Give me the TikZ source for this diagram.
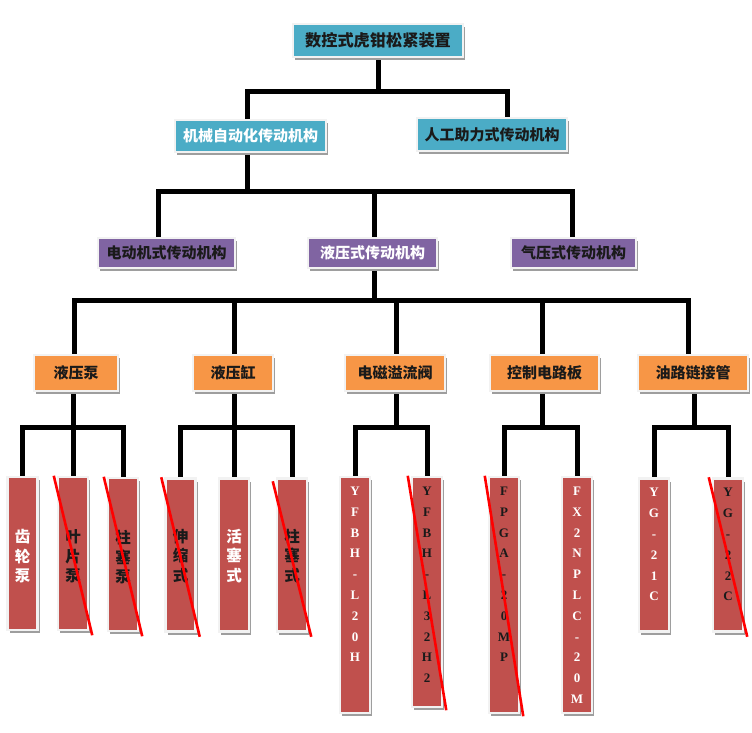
\documentclass[tikz,border=0pt]{standalone}
\usepackage{fontspec}
\setmainfont{Noto Sans CJK SC}
\newfontfamily\latf{Liberation Serif}
\usetikzlibrary{shadows,backgrounds}
\definecolor{tealb}{HTML}{4BACC6}
\definecolor{purpb}{HTML}{8064A2}
\definecolor{oranb}{HTML}{F79646}
\definecolor{redb}{HTML}{C0504D}
\definecolor{dk}{HTML}{1A1A1A}
\definecolor{framec}{HTML}{F2F2F2}
\begin{document}
\begin{tikzpicture}[x=1pt,y=-1pt,
  conn/.style={line width=5pt, black, line join=miter},
  boxbase/.style={draw=framec, line width=2.5pt, inner sep=0pt,
    drop shadow={shadow xshift=2pt, shadow yshift=-3pt, fill=black!38, opacity=1},
    font=\bfseries\fontsize{15}{18}\selectfont, text=dk},
  lvA/.style={boxbase, fill=tealb, minimum height=33pt},
  lvB/.style={boxbase, fill=purpb, minimum height=30pt},
  lvC/.style={boxbase, fill=oranb, minimum height=36pt},
  leafS/.style={boxbase, fill=redb, minimum width=30pt, minimum height=153pt},
  leafL/.style={boxbase, fill=redb, minimum width=30pt, minimum height=236pt},
  cjkt/.style={inner sep=0pt, align=center, font=\bfseries\fontsize{15.5}{19.5}\selectfont},
  latt/.style={inner sep=0pt, align=center, anchor=north, font=\latf\bfseries\fontsize{13}{20.8}\selectfont},
  strike/.style={red, line width=2.6pt},
]
\useasboundingbox (0,0) rectangle (752,733);

% level 1 and 2
\node[lvA, minimum width=170pt, font=\bfseries\fontsize{16.2}{19}\selectfont] (root) at (378,40.5) {数控式虎钳松紧装置};
\node[lvA, minimum width=151pt, minimum height=32pt, text=white] (mech) at (250.5,136) {机械自动化传动机构};
\node[lvA, minimum width=150pt] (manual) at (492,134.5) {人工助力式传动机构};

% level 3
\node[lvB, minimum width=137pt] (elec) at (166.5,253) {电动机式传动机构};
\node[lvB, minimum width=129pt, text=white] (hyd) at (372.5,253) {液压式传动机构};
\node[lvB, minimum width=125pt] (pneu) at (573.5,253) {气压式传动机构};

% level 4
\node[lvC, minimum width=84pt] (pump) at (76,373) {液压泵};
\node[lvC, minimum width=80pt] (cyl) at (233,373) {液压缸};
\node[lvC, minimum width=100pt] (valve) at (395,373) {电磁溢流阀};
\node[lvC, minimum width=109pt] (board) at (544.5,373) {控制电路板};
\node[lvC, minimum width=110pt] (pipe) at (693,373) {油路链接管};

% leaves
\node[leafS] (a1) at (22.5,553.5) {};
\node[leafS] (a2) at (73,553.5) {};
\node[leafS] (a3) at (123,554.5) {};
\node[leafS] (b1) at (180.5,555) {};
\node[leafS] (b2) at (234,555) {};
\node[leafS] (b3) at (292,555) {};
\node[leafL] (c1) at (355,595) {};
\node[leafL, minimum height=230pt] (c2) at (427,592) {};
\node[leafL] (d1) at (504,595) {};
\node[leafL] (d2) at (577,595) {};
\node[leafS] (e1) at (654,555) {};
\node[leafS] (e2) at (728,555) {};

% leaf texts
\node[cjkt, text=white] at ([yshift=-3pt]a1.center) {齿\\轮\\泵};
\node[cjkt, text=dk] at ([yshift=-3pt]a2.center) {叶\\片\\泵};
\node[cjkt, text=dk] at ([yshift=-3pt]a3.center) {柱\\塞\\泵};
\node[cjkt, text=dk] at ([yshift=-1pt]b1.center) {伸\\缩\\式};
\node[cjkt, text=white] at ([yshift=-1pt]b2.center) {活\\塞\\式};
\node[cjkt, text=dk] at ([yshift=-1pt]b3.center) {柱\\塞\\式};
\node[latt, text=white] at ([yshift=-11pt]c1.north) {Y\\F\\B\\H\\-\\L\\2\\0\\H};
\node[latt, text=dk] at ([yshift=-11pt]c2.north) {Y\\F\\B\\H\\-\\L\\3\\2\\H\\2};
\node[latt, text=dk] at ([yshift=-11pt]d1.north) {F\\P\\G\\A\\-\\2\\0\\M\\P};
\node[latt, text=white] at ([yshift=-11pt]d2.north) {F\\X\\2\\N\\P\\L\\C\\-\\2\\0\\M};
\node[latt, text=white] at ([yshift=-11pt]e1.north) {Y\\G\\-\\2\\1\\C};
\node[latt, text=dk] at ([yshift=-11pt]e2.north) {Y\\G\\-\\2\\2\\C};

% connectors
\begin{pgfonlayer}{background}
\fill[white] (0,0) rectangle (752,733);
\coordinate (h1L) at (247,92);
\coordinate (h1R) at (507,92);
\draw[conn] (root.south) -- (root.south |- h1L);
\draw[conn] (h1L |- mech.north) -- (h1L) -- (h1R) -- (h1R |- manual.north);

\coordinate (h2L) at (158,191);
\coordinate (h2S) at (247,191);
\coordinate (h2M) at (374,191);
\coordinate (h2R) at (572,191);
\draw[conn] (h2S |- mech.south) -- (h2S);
\draw[conn] (h2L |- elec.north) -- (h2L) -- (h2R) -- (h2R |- pneu.north);
\draw[conn] (h2M) -- (h2M |- hyd.north);

\coordinate (h3L) at (74,300);
\coordinate (h3T) at (374,300);
\coordinate (h3b) at (234,300);
\coordinate (h3c) at (396,300);
\coordinate (h3d) at (542,300);
\coordinate (h3R) at (688,300);
\draw[conn] (h3T |- hyd.south) -- (h3T);
\draw[conn] (h3L |- pump.north) -- (h3L) -- (h3R) -- (h3R |- pipe.north);
\draw[conn] (h3b) -- (h3b |- cyl.north);
\draw[conn] (h3c) -- (h3c |- valve.north);
\draw[conn] (h3d) -- (h3d |- board.north);

\coordinate (g1) at (73,427);
\coordinate (g2) at (234,427);
\coordinate (g3) at (396,427);
\coordinate (g4) at (542,427);
\coordinate (g5) at (694,427);
\draw[conn] (pump.south -| g1) -- (g1) -- (g1 |- a2.north);
\draw[conn] (a1.north) -- (a1.north |- g1) -- (a3.north |- g1) -- (a3.north);
\draw[conn] (cyl.south -| g2) -- (g2) -- (g2 |- b2.north);
\draw[conn] (b1.north) -- (b1.north |- g2) -- (b3.north |- g2) -- (b3.north);
\draw[conn] (valve.south -| g3) -- (g3);
\draw[conn] (c1.north) -- (c1.north |- g3) -- (c2.north |- g3) -- (c2.north);
\draw[conn] (board.south -| g4) -- (g4);
\draw[conn] (d1.north) -- (d1.north |- g4) -- (d2.north |- g4) -- (d2.north);
\draw[conn] (pipe.south -| g5) -- (g5);
\draw[conn] (e1.north) -- (e1.north |- g5) -- (e2.north |- g5) -- (e2.north);
\end{pgfonlayer}

% strike-through lines
\draw[strike] ([xshift=-3pt]a2.north west) -- ([xshift=3pt,yshift=-4pt]a2.south east);
\draw[strike] ([xshift=-3pt]a3.north west) -- ([xshift=3pt,yshift=-4pt]a3.south east);
\draw[strike] ([xshift=-3pt]b1.north west) -- ([xshift=3pt,yshift=-4pt]b1.south east);
\draw[strike] ([xshift=-3pt,yshift=-4pt]b3.north west) -- ([xshift=3pt,yshift=-4pt]b3.south east);
\draw[strike] ([xshift=-3pt]c2.north west) -- ([xshift=3pt,yshift=-2pt]c2.south east);
\draw[strike] ([xshift=-3pt]d1.north west) -- ([xshift=3pt,yshift=-2pt]d1.south east);
\draw[strike] ([xshift=-3pt]e2.north west) -- ([xshift=3pt,yshift=-4pt]e2.south east);
\end{tikzpicture}
\end{document}
